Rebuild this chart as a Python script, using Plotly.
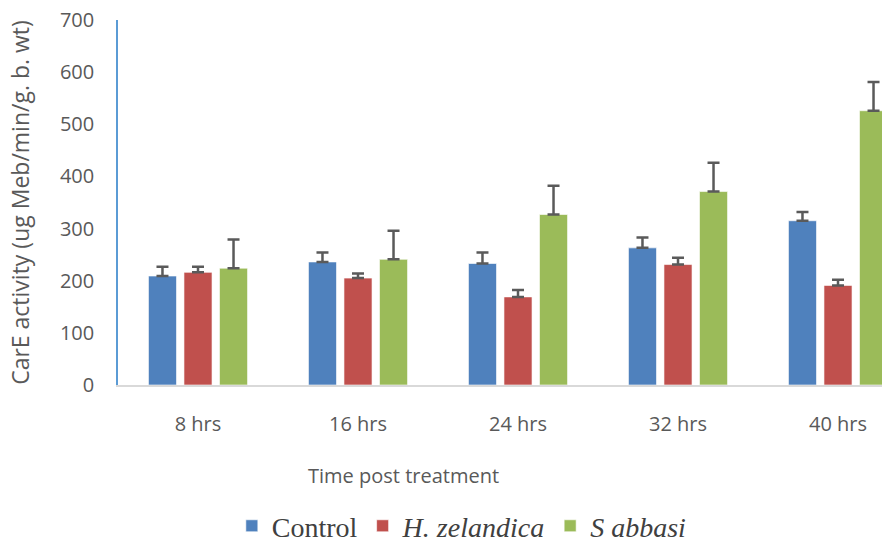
import plotly.graph_objects as go

categories = ["8 hrs", "16 hrs", "24 hrs", "32 hrs", "40 hrs"]
control = [209, 236, 233, 263, 315]
control_err = [18, 18, 21, 20, 17]
hzel = [216, 205, 169, 231, 191]
hzel_err = [11, 9, 13, 13, 11]
sabb = [224, 241, 327, 371, 526]
sabb_err = [55, 55, 55, 55, 55]

names = ["Control", "<i>H. zelandica</i>", "<i>S abbasi</i>"]
colors = ["#4F81BD", "#C0504D", "#9BBB59"]
values = [control, hzel, sabb]
errors = [control_err, hzel_err, sabb_err]

fig = go.Figure()
for n, c, v, e in zip(names, colors, values, errors):
    fig.add_trace(go.Bar(
        x=categories, y=v, name=n,
        marker=dict(color=c, line=dict(color="rgba(255,255,255,0.6)", width=1)),
        error_y=dict(type="data", array=e, arrayminus=[0]*len(e), symmetric=False,
                     color="#5A5A5A", thickness=2.5, width=6),
    ))

fig.update_layout(
    width=882, height=546,
    margin=dict(l=118, r=0, t=20, b=161, autoexpand=False),
    paper_bgcolor="white", plot_bgcolor="white",
    barmode="group", bargap=0.334, bargroupgap=0.21,
    font=dict(family="Open Sans", color="#595959"),
    showlegend=True,
    legend=dict(orientation="h", x=0.149, xanchor="left", y=-0.318, yanchor="top",
                font=dict(family="Liberation Serif", size=28, color="#404040"),
                itemwidth=30, tracegroupgap=0, bgcolor="rgba(0,0,0,0)"),
    xaxis=dict(range=[-0.5, 4.275], showline=True, linecolor="#D9D9D9", linewidth=1.5,
               ticks="", showgrid=False, zeroline=False,
               tickfont=dict(family="Open Sans", size=20, color="#595959"),
               ticklabelstandoff=20),
    yaxis=dict(range=[0, 700], dtick=100, showline=True, linecolor="#5B9BD5", linewidth=1.5,
               ticks="", showgrid=False, zeroline=False,
               tickfont=dict(family="Open Sans", size=20, color="#595959"),
               ticklabelstandoff=18,
               title=dict(text="CarE activity (ug Meb/min/g. b. wt)",
                          font=dict(family="Open Sans", size=23, color="#595959"),
                          standoff=24)),
    annotations=[dict(text="Time post treatment", xref="paper", yref="paper",
                      x=(403 - 118) / 764, y=-(475 - 385) / 365,
                      xanchor="center", yanchor="middle", showarrow=False,
                      font=dict(family="Open Sans", size=20, color="#595959"))],
)

fig.write_html("out.html", config={"displayModeBar": False},
               post_script="document.body.style.margin='0';")
